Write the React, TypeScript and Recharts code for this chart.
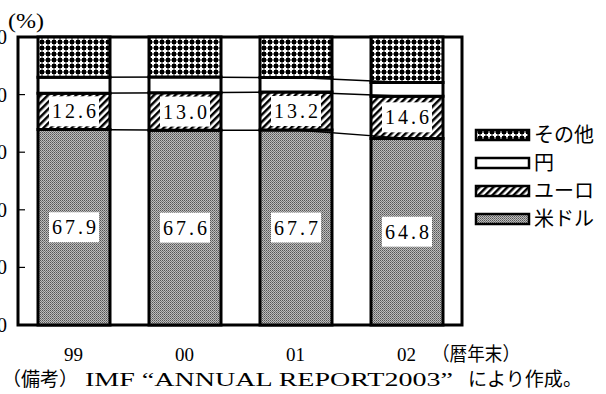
import React from 'react';
import { ComposedChart, Bar, Line, XAxis, YAxis, LabelList, ReferenceArea } from 'recharts';

const years = ['99', '00', '01', '02'];
const usd = [67.9, 67.6, 67.7, 64.8];
const euro = [12.6, 13.0, 13.2, 14.6];
const yen = [5.5, 5.5, 5.0, 4.8];
const other = years.map((_, i) => +(100 - usd[i] - euro[i] - yen[i]).toFixed(1));
const yTicks = [0, 20, 40, 60, 80, 100];

const legendItems = [
  { name: 'その他', fill: 'url(#pOther)' },
  { name: '円', fill: '#fff' },
  { name: 'ユーロ', fill: 'url(#pEuro)' },
  { name: '米ドル', fill: 'url(#pUsd)' },
];

const data = years.map((y, i) => ({
  year: y,
  usd: usd[i],
  euro: euro[i],
  yen: yen[i],
  other: other[i],
  c1: usd[i],
  c2: +(usd[i] + euro[i]).toFixed(1),
  c3: +(usd[i] + euro[i] + yen[i]).toFixed(1),
}));

const SERIF = '"Liberation Serif", "Noto Sans CJK JP", serif';

const ValueLabel = (props: any) => {
  const vb = props.viewBox || {};
  const x = props.x ?? vb.x;
  const y = props.y ?? vb.y;
  const width = props.width ?? vb.width;
  const height = props.height ?? vb.height;
  const cx = x + width / 2;
  const cy = y + height / 2;
  return (
    <g>
      <rect x={cx - 25} y={cy - 15} width={50} height={30} fill="#fff" />
      <text x={cx} y={cy} dy="0.35em" textAnchor="middle" fontFamily={SERIF} fontSize={20}
        textLength={44} lengthAdjust="spacing" fill="#000">
        {Number(props.value).toFixed(1)}
      </text>
    </g>
  );
};

const YTick = (props: any) => {
  const { x, y, payload } = props;
  return (
    <g>
      <text x={x} y={y} dy="0.35em" textAnchor="end" fontFamily={SERIF} fontSize={20} fill="#000">
        {payload.value}
      </text>
      <line x1={x + 11} x2={x + 18} y1={y} y2={y} stroke="#000" strokeWidth={1.2} />
    </g>
  );
};

const XTick = (props: any) => {
  const { x, y, payload } = props;
  return (
    <text x={x} y={y + 36} textAnchor="middle" fontFamily={SERIF} fontSize={19} fill="#000">
      {payload.value}
    </text>
  );
};

export default function App() {
  return (
    <div style={{ position: 'absolute', left: 0, top: 0, width: 606, height: 394, background: '#fff', overflow: 'hidden' }}>
      <svg width={0} height={0} style={{ position: 'absolute' }}>
        <defs>
          <pattern id="pUsd" patternUnits="userSpaceOnUse" width={2} height={2}>
            <rect width={2} height={2} fill="#bdbdbd" />
            <rect x={0} y={0} width={1} height={1} fill="#555" />
            <rect x={1} y={1} width={1} height={1} fill="#777" />
          </pattern>
          <pattern id="pEuro" patternUnits="userSpaceOnUse" width={5} height={5} patternTransform="rotate(45)">
            <rect width={5} height={5} fill="#fff" />
            <rect x={0} y={0} width={2.5} height={5} fill="#000" />
          </pattern>
          <pattern id="pOther" patternUnits="userSpaceOnUse" width={6} height={6}>
            <rect width={6} height={6} fill="#000" />
            <rect x={0.5} y={2} width={5} height={2} fill="#fff" />
            <rect x={2} y={0.5} width={2} height={5} fill="#fff" />
          </pattern>
        </defs>
      </svg>
      <ComposedChart width={606} height={394} data={data} margin={{ top: 37, right: 144, bottom: 39, left: 0 }}>
        <XAxis dataKey="year" height={30} tickLine={false} axisLine={false} tickSize={0} tickMargin={0} tick={<XTick />} />
        <YAxis type="number" domain={[0, 100]} ticks={yTicks} width={18} tickLine={false} axisLine={false}
          tickSize={0} tickMargin={11} tick={<YTick />} interval={0} />
        <Line dataKey="c1" type="linear" stroke="#000" strokeWidth={1.5} dot={false} activeDot={false} isAnimationActive={false} />
        <Line dataKey="c2" type="linear" stroke="#000" strokeWidth={1.5} dot={false} activeDot={false} isAnimationActive={false} />
        <Line dataKey="c3" type="linear" stroke="#000" strokeWidth={1.5} dot={false} activeDot={false} isAnimationActive={false} />
        <Bar dataKey="usd" stackId="s" fill="url(#pUsd)" stroke="#000" strokeWidth={3} barSize={72} isAnimationActive={false}>
          <LabelList dataKey="usd" content={ValueLabel} />
        </Bar>
        <Bar dataKey="euro" stackId="s" fill="url(#pEuro)" stroke="#000" strokeWidth={3} barSize={72} isAnimationActive={false}>
          <LabelList dataKey="euro" content={ValueLabel} />
        </Bar>
        <Bar dataKey="yen" stackId="s" fill="#fff" stroke="#000" strokeWidth={3} barSize={72} isAnimationActive={false} />
        <Bar dataKey="other" stackId="s" fill="url(#pOther)" stroke="#000" strokeWidth={3} barSize={72} isAnimationActive={false} />
        <ReferenceArea y1={0} y2={100} fill="none" stroke="#000" strokeWidth={3} ifOverflow="visible" />
      </ComposedChart>
      <svg width={606} height={394} style={{ position: 'absolute', left: 0, top: 0, pointerEvents: 'none' }}>
        <text x={8} y={28} fontFamily={SERIF} fontSize={20} textLength={36} lengthAdjust="spacingAndGlyphs" fill="#000">(%)</text>
        {legendItems.map((it, i) => (
          <g key={it.name}>
            <rect x={476} y={130 + i * 28} width={53} height={10} fill={it.fill} stroke="#000" strokeWidth={2.5} />
            <text x={534} y={135 + i * 28} dy="0.35em" fontFamily={SERIF} fontSize={20} fill="#000">{it.name}</text>
          </g>
        ))}
        <text x={432} y={361} fontFamily={SERIF} fontSize={19} textLength={88} lengthAdjust="spacingAndGlyphs" fill="#000">（暦年末）</text>
        <text y={386} fontFamily={SERIF} fontSize={19} fill="#000">
          <tspan x={2} textLength={76} lengthAdjust="spacingAndGlyphs">（備考）</tspan>
          <tspan x={85} textLength={368} lengthAdjust="spacingAndGlyphs">IMF “ANNUAL REPORT2003”</tspan>
          <tspan x={468} textLength={114} lengthAdjust="spacingAndGlyphs">により作成。</tspan>
        </text>
      </svg>
    </div>
  );
}
